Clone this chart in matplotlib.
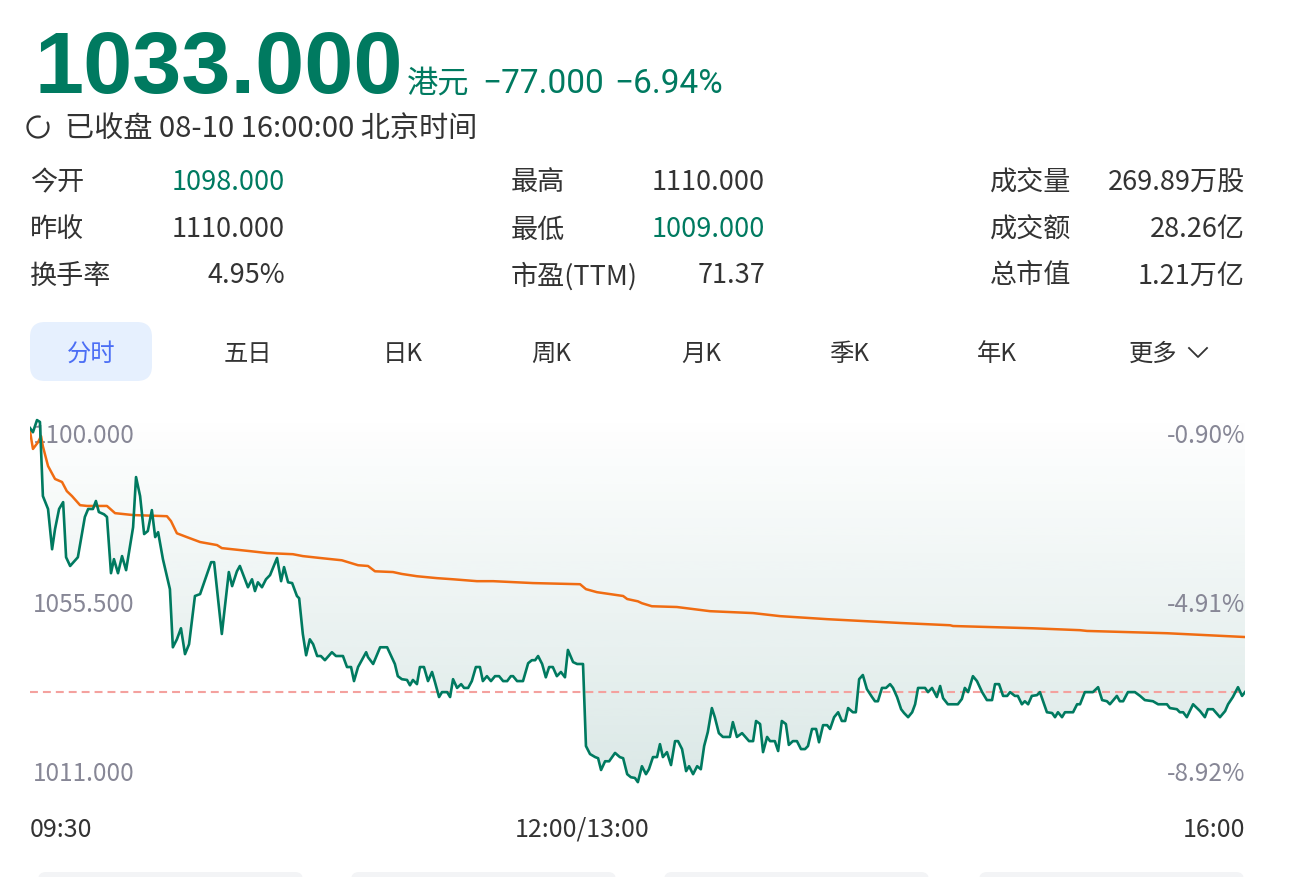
import matplotlib
matplotlib.use('Agg')
import matplotlib.pyplot as plt
import numpy as np
from matplotlib.patches import FancyBboxPatch, Polygon
from matplotlib.colors import LinearSegmentedColormap
from matplotlib.transforms import blended_transform_factory

plt.rcParams['font.family'] = ['Noto Sans CJK SC', 'DejaVu Sans']

# ---- header data ----
last_price = 1033.0
prev_close = 1110.0
currency = '港元'
status = '已收盘 08-10 16:00:00 北京时间'

stat_labels = [['今开', '昨收', '换手率'],
               ['最高', '最低', '市盈(TTM)'],
               ['成交量', '成交额', '总市值']]
stat_values = [['1098.000', '1110.000', '4.95%'],
               ['1110.000', '1009.000', '71.37'],
               ['269.89万股', '28.26亿', '1.21万亿']]
price_stats = {'1098.000': 1098.0, '1110.000': 1110.0, '1009.000': 1009.0}

tabs = ['分时', '五日', '日K', '周K', '月K', '季K', '年K', '更多']

# ---- intraday data: minutes since 09:30 (lunch removed, 150 = 12:00/13:00) ----
minutes = [0, 0.8, 1.9, 2.7, 3.5, 4.9, 6.0, 6.8, 7.9, 9.0, 9.8, 10.9, 13.0, 14.9, 15.8,
           17.1, 17.9, 18.7, 20.1, 20.9, 22.0, 22.8, 23.9, 25.0, 26.1, 28.0, 28.8, 29.9,
           31.0, 32.0, 33.1, 34.0, 34.8, 36.1, 38.0, 38.8, 39.9, 41.0, 42.1, 43.2, 44.8,
           46.2, 49.2, 50.0, 52.1, 54.0, 54.9, 56.2, 57.0, 59.2, 60.3, 61.1, 61.9, 63.0,
           64.1, 65.2, 67.1, 68.2, 69.0, 70.1, 71.2, 72.5, 73.1, 74.1, 75.0, 76.0, 76.9,
           78.0, 79.0, 80.1, 82.0, 83.1, 85.0, 86.1, 87.2, 88.0, 89.1, 91.3, 91.8, 93.2,
           95.1, 97.0, 99.1, 99.9, 101.0, 102.4, 103.2, 104.0, 105.1, 105.9, 107.0, 108.1,
           109.2, 110.0, 111.1, 111.9, 113.3, 114.1, 114.9, 116.0, 117.1, 117.9, 119.0,
           120.0, 121.1, 122.2, 123.0, 124.1, 125.2, 126.3, 127.4, 128.5, 129.6, 130.6,
           131.2, 132.3, 133.9, 135.3, 136.3, 137.2, 138.0, 139.1, 140.1, 141.0, 142.0,
           143.1, 144.2, 145.3, 146.1, 147.5, 148.6, 150.2, 151.0, 152.1, 153.5, 154.3,
           155.1, 156.2, 157.3, 158.9, 160.2, 161.1, 162.2, 163.2, 164.3, 165.1, 166.2,
           167.3, 168.1, 169.2, 170.3, 171.1, 171.9, 173.0, 174.1, 175.2, 176.0, 177.1,
           178.2, 179.0, 180.1, 181.2, 182.2, 183.1, 184.1, 185.2, 186.0, 187.1, 188.2,
           190.1, 190.9, 192.0, 193.4, 195.3, 196.4, 197.2, 198.3, 199.1, 200.2, 201.0,
           202.3, 203.2, 204.2, 205.3, 206.1, 207.2, 208.3, 209.4, 210.5, 211.3, 212.4,
           213.5, 214.3, 215.4, 216.5, 217.3, 218.4, 219.5, 220.5, 221.4, 222.2, 223.5,
           224.3, 225.2, 226.2, 227.3, 228.7, 229.5, 230.3, 231.4, 232.5, 233.6, 234.4,
           235.5, 236.6, 237.4, 238.5, 239.6, 240.4, 241.2, 243.1, 243.9, 245.0, 246.3,
           247.2, 248.0, 249.3, 252.0, 253.1, 253.9, 254.8, 256.1, 257.2, 258.6, 259.9,
           261.3, 262.1, 263.2, 264.3, 265.4, 266.2, 267.5, 268.3, 269.4, 270.2, 271.1,
           272.1, 273.5, 274.3, 276.2, 277.6, 278.4, 279.2, 280.3, 281.1, 283.3, 284.4,
           285.2, 286.5, 288.7, 290.1, 291.2, 292.5, 293.3, 295.2, 296.0, 296.9, 298.2,
           300.1, 301.5, 302.8, 305.0, 306.4, 308.8, 309.6, 311.5, 312.3, 313.2, 314.2,
           315.9, 317.8, 319.1, 319.9, 321.3, 323.2, 324.6, 325.4, 326.7, 328.1, 329.2, 330]
price = [1102.5, 1101.4, 1104.6, 1104.1, 1084.6, 1081.2, 1070.6, 1075.9, 1081.2, 1083.0,
         1068.5, 1066.2, 1068.5, 1079.1, 1081.2, 1081.2, 1083.3, 1080.4, 1079.8, 1079.1,
         1064.3, 1068.0, 1064.3, 1068.8, 1065.1, 1076.4, 1089.6, 1084.6, 1074.6, 1075.4,
         1080.9, 1073.8, 1075.1, 1068.0, 1060.1, 1044.8, 1046.9, 1049.8, 1043.0, 1045.6,
         1058.3, 1058.8, 1067.2, 1067.2, 1048.3, 1064.6, 1060.9, 1064.8, 1066.2, 1060.6,
         1062.7, 1059.6, 1061.9, 1060.6, 1062.7, 1063.8, 1068.3, 1062.2, 1065.9, 1061.9,
         1061.7, 1058.3, 1057.7, 1048.3, 1042.7, 1046.9, 1045.6, 1042.5, 1042.5, 1041.4,
         1043.5, 1042.5, 1042.5, 1039.6, 1039.6, 1035.9, 1039.6, 1043.5, 1042.2, 1040.4,
         1044.8, 1044.8, 1040.4, 1037.2, 1036.4, 1036.2, 1034.8, 1036.2, 1035.1, 1039.6,
         1039.6, 1035.9, 1038.3, 1035.6, 1031.7, 1033.0, 1033.0, 1031.7, 1036.4, 1034.1,
         1035.1, 1034.1, 1034.1, 1035.9, 1039.6, 1039.6, 1035.9, 1037.2, 1035.9, 1037.2,
         1037.2, 1035.9, 1035.9, 1037.2, 1037.2, 1035.9, 1035.9, 1040.6, 1041.4, 1041.4,
         1042.5, 1040.4, 1036.9, 1039.6, 1039.6, 1037.2, 1038.3, 1036.9, 1044.1, 1040.9,
         1040.4, 1040.4, 1018.8, 1016.7, 1015.9, 1015.6, 1012.5, 1014.8, 1014.8, 1017.0,
         1015.9, 1015.6, 1011.4, 1010.6, 1010.4, 1009.3, 1013.5, 1011.4, 1012.7, 1015.9,
         1015.9, 1019.3, 1015.9, 1017.2, 1013.8, 1020.1, 1020.1, 1018.0, 1012.2, 1013.5,
         1011.4, 1013.5, 1012.7, 1018.8, 1022.5, 1028.8, 1026.4, 1022.2, 1021.2, 1021.2,
         1025.1, 1021.2, 1022.2, 1020.1, 1020.1, 1025.4, 1024.6, 1017.2, 1021.2, 1020.1,
         1020.1, 1017.5, 1025.4, 1024.6, 1019.1, 1020.1, 1020.1, 1018.0, 1018.0, 1018.8,
         1023.3, 1023.3, 1019.8, 1024.3, 1024.3, 1023.3, 1026.4, 1027.7, 1025.4, 1025.4,
         1028.8, 1027.7, 1027.7, 1036.4, 1037.5, 1033.8, 1031.7, 1030.6, 1030.6, 1034.1,
         1034.1, 1035.1, 1034.1, 1031.7, 1028.5, 1027.5, 1026.4, 1027.7, 1029.8, 1034.1,
         1034.1, 1033.0, 1034.1, 1031.7, 1034.6, 1031.4, 1029.8, 1029.8, 1031.2, 1034.1,
         1033.0, 1037.2, 1035.9, 1033.0, 1030.9, 1030.9, 1035.1, 1035.1, 1032.0, 1032.0,
         1033.0, 1032.0, 1032.0, 1029.8, 1030.6, 1029.8, 1032.0, 1032.2, 1033.0, 1027.7,
         1027.5, 1026.4, 1027.7, 1026.4, 1027.7, 1027.7, 1029.8, 1029.8, 1033.0, 1033.0,
         1034.3, 1030.9, 1030.6, 1029.8, 1032.0, 1030.6, 1030.6, 1033.0, 1033.0, 1032.0,
         1030.9, 1030.6, 1029.8, 1029.8, 1028.8, 1028.5, 1027.7, 1027.7, 1026.4, 1029.8,
         1028.0, 1026.4, 1028.5, 1028.5, 1026.4, 1028.0, 1029.8, 1031.7, 1034.3, 1032.0,
         1033.0]

avg_minutes = [0, 0.8, 2.2, 3.0, 3.5, 4.9, 6.8, 8.7, 10.0, 11.4, 13.6, 15.5, 20.9, 23.1,
               28.0, 37.2, 38.3, 39.9, 42.6, 46.2, 50.8, 52.1, 59.8, 64.4, 71.4, 74.1,
               78.8, 84.7, 89.1, 91.8, 93.7, 98.6, 101.0, 105.1, 110.5, 114.9, 121.4,
               125.8, 136.6, 149.4, 151.0, 154.0, 161.1, 162.2, 165.1, 166.2, 168.9,
               175.7, 184.7, 196.4, 203.7, 216.5, 236.3, 249.9, 250.7, 272.4, 285.2,
               287.1, 308.8, 330]
avg_price = [1101.7, 1097.0, 1098.8, 1100.4, 1097.7, 1092.5, 1089.1, 1088.3, 1085.9,
             1084.6, 1082.2, 1082.0, 1082.0, 1080.1, 1079.6, 1079.3, 1078.0, 1074.8,
             1073.8, 1072.5, 1071.7, 1070.9, 1070.1, 1069.6, 1069.3, 1068.8, 1068.3,
             1067.7, 1066.4, 1066.2, 1064.8, 1064.6, 1064.1, 1063.5, 1063.0, 1062.7,
             1062.2, 1062.2, 1061.7, 1061.4, 1060.1, 1059.3, 1058.3, 1057.5, 1056.9,
             1056.4, 1055.6, 1055.4, 1054.3, 1053.8, 1053.0, 1052.2, 1051.2, 1050.6,
             1050.4, 1049.8, 1049.3, 1049.1, 1048.5, 1047.5]

price_ticks = [1100.0, 1055.5, 1011.0]
time_ticks = [0, 150, 330]
time_labels = ['09:30', '12:00/13:00', '16:00']

GREEN = '#007a60'
DARK = '#333333'
GREY = '#878796'
ORANGE = '#f06c12'

fig = plt.figure(figsize=(13.1, 8.78), dpi=100)

# overlay in pixel coordinates for the header part
ov = fig.add_axes([0, 0, 1, 1])
ov.set_xlim(0, 1310)
ov.set_ylim(878, 0)
ov.axis('off')

change = last_price - prev_close
change_pct = change / prev_close * 100

ov.text(34, 93, f'{last_price:.3f}', fontsize=63.5, fontweight='bold', color=GREEN,
        family=['Liberation Sans', 'DejaVu Sans'], va='baseline', ha='left')
ov.text(407, 93, currency, fontsize=22.5, color=GREEN, va='baseline')
ov.text(482, 93, f'\u2212{abs(change):.3f}', fontsize=24, color=GREEN, va='baseline',
        family=['Roboto', 'DejaVu Sans'])
ov.text(614, 93, f'\u2212{abs(change_pct):.2f}%', fontsize=24, color=GREEN, va='baseline',
        family=['Roboto', 'DejaVu Sans'])

# refresh ring icon
t = np.radians(np.linspace(80, 385, 60))
ov.plot(38 + 10.5 * np.cos(t), 128 - 10.5 * np.sin(t), color=DARK, lw=1.6,
        solid_capstyle='round')
ov.text(65, 129, status, fontsize=21, color=DARK, va='center', ha='left')

# stats grid
label_x = [30, 511, 990]
value_x = [285, 765, 1245]
row_y = [183, 230, 276]
for c in range(3):
    for r in range(3):
        ov.text(label_x[c], row_y[r], stat_labels[c][r], fontsize=19.5, color=DARK,
                va='center', ha='left')
        v = stat_values[c][r]
        col = DARK
        if v in price_stats and price_stats[v] < prev_close:
            col = GREEN
        ov.text(value_x[c], row_y[r], v, fontsize=19.5, color=col, va='center',
                ha='right', fontweight='medium')

# tabs
tab_x = [91, 248, 403, 551, 701, 849, 997, 1153]
ov.add_patch(FancyBboxPatch((30, 323), 122, 59,
                            boxstyle='round,pad=0,rounding_size=15',
                            fc='#e6f0fe', ec='none'))
for i, name in enumerate(tabs):
    ov.text(tab_x[i], 354, name, fontsize=17.5, va='center', ha='center',
            color='#4b6ef5' if i == 0 else DARK)
ov.plot([1189, 1198, 1207], [349, 358, 349], color=DARK, lw=1.3)

# peeking cards at the bottom
for x0 in [38, 351, 664, 979]:
    ov.add_patch(FancyBboxPatch((x0, 873), 265, 40,
                                boxstyle='round,pad=0,rounding_size=8',
                                fc='#f3f4f6', ec='none'))

# ---- chart ----
ax = fig.add_axes([30 / 1310, 88 / 878, 1215 / 1310, 375 / 878])
ax.patch.set_alpha(0)
ytop, ybot = 1106.2, 1007.5
ax.set_xlim(0, 330)
ax.set_ylim(ybot, ytop)
ax.axis('off')

# gradient fill between price line and the top edge
verts = list(zip(minutes, price)) + [(minutes[-1], ytop), (minutes[0], ytop)]
poly = Polygon(verts, closed=True, fc='none', ec='none', transform=ax.transData)
ax.add_patch(poly)
cmap = LinearSegmentedColormap.from_list(
    'fade', [(40 / 255, 120 / 255, 110 / 255, 0.0), (40 / 255, 120 / 255, 110 / 255, 0.17)])
grad = np.linspace(1, 0, 256).reshape(-1, 1)
im = ax.imshow(grad, extent=[0, 330, ybot, ytop], origin='lower', aspect='auto',
               cmap=cmap, zorder=1, interpolation='bicubic')
im.set_clip_path(poly)

ax.axhline(last_price, color='#f4a19e', lw=1.5, dashes=(3.8, 2.4), zorder=2)
ax.plot(avg_minutes, avg_price, color=ORANGE, lw=1.8, zorder=4)
ax.plot(minutes, price, color=GREEN, lw=1.9, zorder=5, solid_joinstyle='round')

# axis labels drawn inside the plot
trans = blended_transform_factory(ax.transAxes, ax.transData)
for p in price_ticks:
    ax.text(0.002, p + 0.8, f'{p:.3f}', transform=trans, fontsize=17.5, color=GREY,
            ha='left', va='center', zorder=3)
    pct = (p - prev_close) / prev_close * 100
    ax.text(1.0, p + 0.8, f'{pct:.2f}%', transform=trans, fontsize=17.5, color=GREY,
            ha='right', va='center', zorder=3)

ha_list = ['left', 'center', 'right']
for tv, tl, ha in zip(time_ticks, time_labels, ha_list):
    ax.text(tv, 1007.5 - 40 / 3.8, tl, fontsize=18, color=DARK, ha=ha, va='center',
            clip_on=False)

fig.savefig('out.png', dpi=100, facecolor='white')
